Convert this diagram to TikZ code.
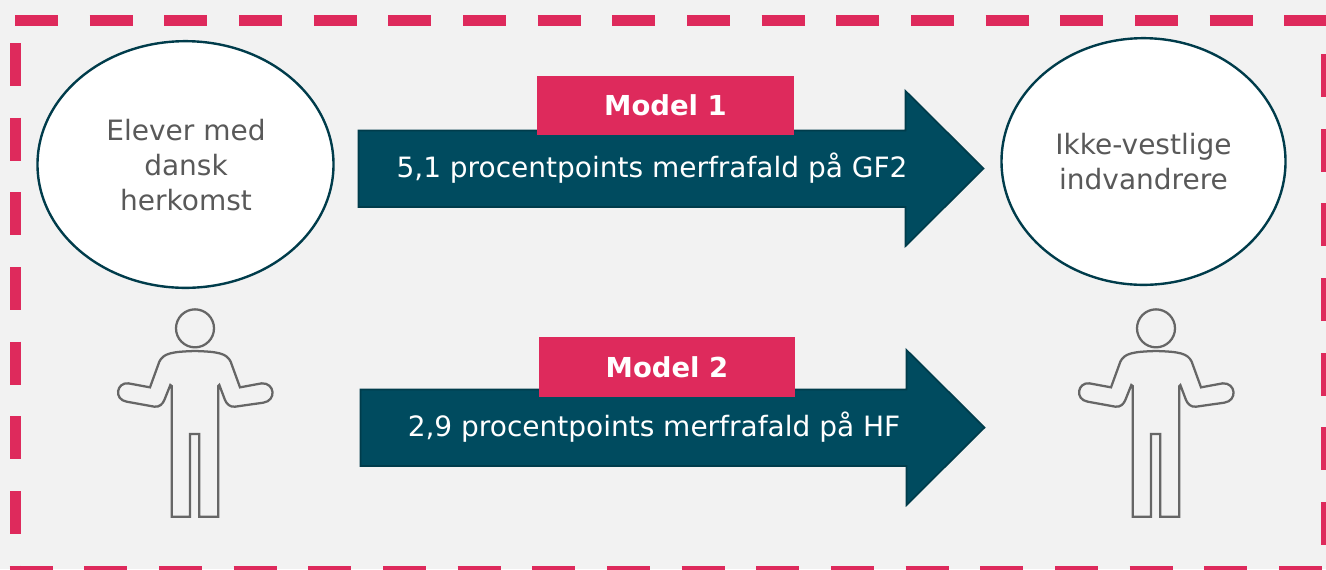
\documentclass[tikz,border=0pt]{standalone}
\usepackage{fontspec}
\usetikzlibrary{shapes.geometric}
\setmainfont{DejaVu Sans}
\definecolor{bg}{HTML}{F2F2F2}
\definecolor{pinkc}{HTML}{DE2A5C}
\definecolor{tealc}{HTML}{004B5F}
\definecolor{edgec}{HTML}{003C4B}
\definecolor{grayt}{HTML}{595959}
\definecolor{persc}{HTML}{666666}
\tikzset{
  px/.style={x=0.75pt,y=-0.75pt},
  frameline/.style={draw=pinkc,line width=8.25pt,dash pattern=on 32.25pt off 23.75pt},
  bubble/.style={ellipse,draw=edgec,line width=1.8pt,fill=white,inner sep=0pt},
  bubbletext/.style={text=grayt,font=\fontsize{21}{26.25}\selectfont,align=center,inner sep=0pt},
  bigarrow/.style={fill=tealc,draw=edgec,line width=1.3pt,line join=miter},
  tag/.style={fill=pinkc,draw=none,text=white,font=\bfseries\fontsize{20.6}{24}\selectfont,
    inner sep=0pt,minimum width=192.5pt,minimum height=44.5pt},
  arrowtext/.style={text=white,font=\fontsize{21}{25}\selectfont,inner sep=0pt},
  figure/.style={draw=persc,line width=1.7pt,line join=miter},
}
\newcommand{\personfig}[2]{%
  \begin{scope}[shift={(#1,#2)},x=0.25pt,y=-0.25pt]
    \draw[figure] (285,85) circle [radius=57];
    \draw[figure] (150,262) -- (178,185) .. controls (190,160) and (215,155) .. (285,153)
      .. controls (355,155) and (380,160) .. (392,185) -- (420,262) -- (485,250)
      .. controls (525,248) and (530,302) .. (490,308) -- (405,320)
      .. controls (390,322) and (380,312) .. (375,300) -- (358,255) -- (355,258) -- (355,650)
      -- (298,650) -- (298,402) -- (270,402) -- (270,650) -- (215,650) -- (215,258) -- (211,255)
      -- (193,300) .. controls (188,312) and (178,322) .. (163,320) -- (80,305)
      .. controls (40,298) and (50,246) .. (85,250) -- cycle;
  \end{scope}}
\begin{document}
\begin{tikzpicture}[px]
  \useasboundingbox (0,0) rectangle (1326,569);
  \fill[bg] (0,0) rectangle (1326,569);
  \begin{scope}
    \clip (0,0) rectangle (1326,569);
    \coordinate (tl) at (15,20.5);
    \coordinate (tr) at (1326,20.5);
    \coordinate (bl) at (9.7,571.5);
    \coordinate (br) at (1326,571.5);
    \coordinate (lt) at (15.5,43);
    \coordinate (lb) at (15.5,569);
    \coordinate (rt) at (1326.5,54);
    \coordinate (rb) at (1326.5,569);
    \draw[frameline] (tl) -- (tr);
    \draw[frameline] (bl) -- (br);
    \draw[frameline] (lt) -- (lb);
    \draw[frameline] (rt) -- (rb);
  \end{scope}

  \node[bubble,minimum width=222pt,minimum height=185pt] (dansk) at (185.5,164.5) {};
  \node[bubbletext] (dansktext) at (186,165.5) {Elever med\\dansk\\herkomst};
  \node[bubble,minimum width=213pt,minimum height=185pt] (ikke) at (1143.5,161.5) {};
  \node[bubbletext] (ikketext) at (1143.5,161.5) {Ikke-vestlige\\indvandrere};

  \draw[bigarrow] (358.5,130.5) -- (905.5,130.5) -- (905.5,91) -- (983.5,168.5) -- (905.5,246) -- (905.5,207) -- (358.5,207) -- cycle;
  \draw[bigarrow] (360.5,389.5) -- (906.5,389.5) -- (906.5,350) -- (984.5,427.5) -- (906.5,505) -- (906.5,466) -- (360.5,466) -- cycle;
  \node[arrowtext] (t1) at (652,168) {5,1 procentpoints merfrafald på GF2};
  \node[arrowtext] (t2) at (654,427.5) {2,9 procentpoints merfrafald på HF};
  \node[tag] (m1) at (665.5,105.5) {Model 1};
  \node[tag] (m2) at (667,367) {Model 2};

  \personfig{100}{300}
  \personfig{1061}{300}
\end{tikzpicture}
\end{document}
